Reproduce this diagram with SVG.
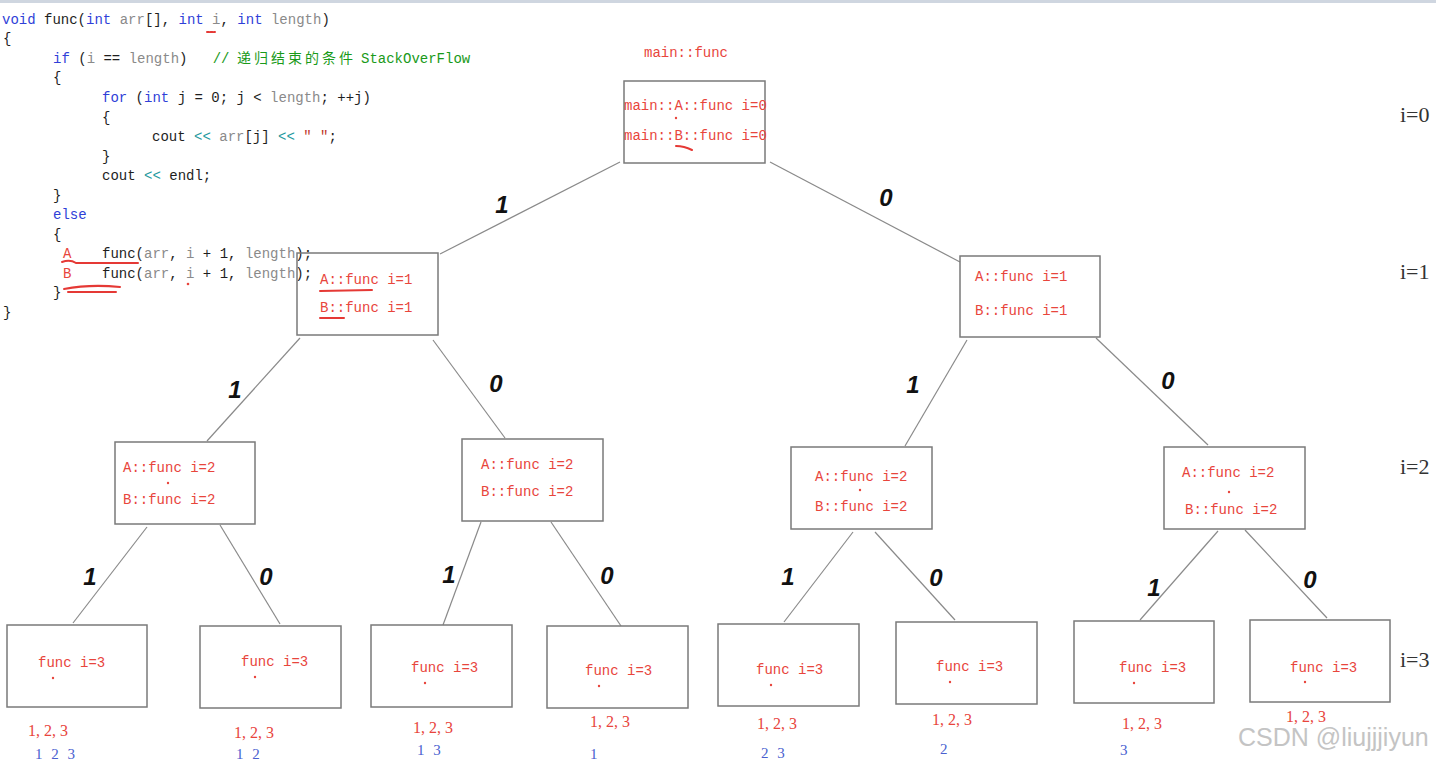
<svg xmlns="http://www.w3.org/2000/svg" width="1436" height="761" viewBox="0 0 1436 761">
<style>
.code{font-family:"Liberation Mono","Noto Sans CJK SC",monospace;font-size:14px;fill:#1e1e1e;white-space:pre}
.kw{fill:#2f3fd8}
.id{fill:#8a8a8a}
.op{fill:#1f9aa0}
.cm{fill:#1a9a1a}
.st{fill:#c0392b}
.ab{fill:#e8453c}
.box{fill:none;stroke:#7a7a7a;stroke-width:1.5}
.nt{font-family:"Liberation Mono",monospace;font-size:14px;fill:#e8453c;white-space:pre}
.edge{stroke:#8a8a8a;stroke-width:1.2;fill:none}
.el{font-family:"Liberation Sans",sans-serif;font-weight:bold;font-style:italic;font-size:24px;fill:#111;text-anchor:middle}
.lv{font-family:"Liberation Serif",serif;font-size:22px;fill:#333}
.r123{font-family:"Liberation Serif",serif;font-size:16px;fill:#e8453c}
.b123{font-family:"Liberation Serif",serif;font-size:15px;fill:#4a5fcf;word-spacing:5px}
.mark{stroke:#e53935;stroke-width:2;fill:none;stroke-linecap:round}
.dot{fill:#e8453c}
</style>
<rect x="0" y="0" width="1436" height="3" fill="#cfd6e0"/>
<g id="code">
<text class="code" x="2" y="24" xml:space="preserve"><tspan class="kw">void</tspan> func(<tspan class="kw">int</tspan> <tspan class="id">arr</tspan>[], <tspan class="kw">int</tspan> <tspan class="id">i</tspan>, <tspan class="kw">int</tspan> <tspan class="id">length</tspan>)</text>
<text class="code" x="3" y="43">{</text>
<text class="code" x="53" y="63" xml:space="preserve"><tspan class="kw">if</tspan> (<tspan class="id">i</tspan> == <tspan class="id">length</tspan>)   <tspan class="cm">//</tspan></text>
<text class="code cm" x="237" y="63" textLength="116" lengthAdjust="spacing">递归结束的条件</text>
<text class="code cm" x="361" y="63">StackOverFlow</text>
<text class="code" x="53" y="82">{</text>
<text class="code" x="102" y="102" xml:space="preserve"><tspan class="kw">for</tspan> (<tspan class="kw">int</tspan> j = 0; j &lt; <tspan class="id">length</tspan>; ++j)</text>
<text class="code" x="102" y="122">{</text>
<text class="code" x="152" y="141" xml:space="preserve">cout <tspan class="op">&lt;&lt;</tspan> <tspan class="id">arr</tspan>[j] <tspan class="op">&lt;&lt;</tspan> <tspan class="st">" "</tspan>;</text>
<text class="code" x="102" y="161">}</text>
<text class="code" x="102" y="180" xml:space="preserve">cout <tspan class="op">&lt;&lt;</tspan> endl;</text>
<text class="code" x="53" y="200">}</text>
<text class="code kw" x="53" y="219">else</text>
<text class="code" x="53" y="239">{</text>
<text class="code ab" x="63" y="258">A</text>
<text class="code" x="102" y="258" xml:space="preserve">func(<tspan class="id">arr</tspan>, <tspan class="id">i</tspan> + 1, <tspan class="id">length</tspan>);</text>
<text class="code ab" x="63" y="278">B</text>
<text class="code" x="102" y="278" xml:space="preserve">func(<tspan class="id">arr</tspan>, <tspan class="id">i</tspan> + 1, <tspan class="id">length</tspan>);</text>
<text class="code" x="53" y="297">}</text>
<text class="code" x="3" y="317">}</text>
<path class="mark" d="M62 262 Q70 259 76 263 L138 263" />
<path class="mark" d="M64 289 Q90 284 120 287 M68 292 L116 292" stroke-width="1.6"/>
<circle class="dot" cx="188" cy="284" r="1.3"/>
<path class="mark" d="M207 32 L215 32" stroke-width="0.8" stroke-dasharray="2 1.5"/>
</g>
<g id="connectors">
<line class="edge" x1="620" y1="162" x2="440" y2="254"/>
<line class="edge" x1="770" y1="162" x2="960" y2="262"/>
<line class="edge" x1="300" y1="338" x2="207" y2="441"/>
<line class="edge" x1="433" y1="340" x2="505" y2="438"/>
<line class="edge" x1="967" y1="340" x2="905" y2="446"/>
<line class="edge" x1="1096" y1="338" x2="1208" y2="445"/>
<line class="edge" x1="147" y1="527" x2="73" y2="623"/>
<line class="edge" x1="220" y1="525" x2="280" y2="624"/>
<line class="edge" x1="481" y1="522" x2="443" y2="625"/>
<line class="edge" x1="551" y1="522" x2="621" y2="626"/>
<line class="edge" x1="853" y1="532" x2="784" y2="622"/>
<line class="edge" x1="875" y1="532" x2="955" y2="620"/>
<line class="edge" x1="1218" y1="531" x2="1140" y2="620"/>
<line class="edge" x1="1245" y1="530" x2="1327" y2="618"/>
<text class="el" x="502" y="213">1</text>
<text class="el" x="886" y="206">0</text>
<text class="el" x="235" y="398">1</text>
<text class="el" x="496" y="392">0</text>
<text class="el" x="913" y="393">1</text>
<text class="el" x="1168" y="389">0</text>
<text class="el" x="90" y="585">1</text>
<text class="el" x="266" y="585">0</text>
<text class="el" x="449" y="583">1</text>
<text class="el" x="607" y="584">0</text>
<text class="el" x="788" y="585">1</text>
<text class="el" x="936" y="586">0</text>
<text class="el" x="1154" y="596">1</text>
<text class="el" x="1310" y="588">0</text>
</g>
<g id="root">
<text class="nt" x="644" y="57">main::func</text>
<rect class="box" x="624" y="81" width="141" height="82"/>
<text class="nt" x="624" y="110">main::A::func i=0</text>
<text class="nt" x="624" y="140">main::B::func i=0</text>
<circle class="dot" cx="676" cy="118" r="1.2"/>
<path class="mark" d="M676 146 Q684 146 692 150"/>
</g>
<g id="n1L">
<rect class="box" x="297" y="253" width="141" height="82"/>
<text class="nt" x="320" y="284">A::func i=1</text>
<text class="nt" x="320" y="312">B::func i=1</text>
<path class="mark" d="M320 291 L372 290 M320 318 L344 318"/>
</g>
<g id="n1R">
<rect class="box" x="960" y="256" width="140" height="81"/>
<text class="nt" x="975" y="281">A::func i=1</text>
<text class="nt" x="975" y="315">B::func i=1</text>
</g>
<g id="n2LL">
<rect class="box" x="115" y="442" width="140" height="82"/>
<text class="nt" x="123" y="472">A::func i=2</text>
<text class="nt" x="123" y="504">B::func i=2</text>
<circle class="dot" cx="168" cy="483" r="1.2"/>
</g>
<g id="n2LR">
<rect class="box" x="462" y="439" width="141" height="82"/>
<text class="nt" x="481" y="469">A::func i=2</text>
<text class="nt" x="481" y="496">B::func i=2</text>
</g>
<g id="n2RL">
<rect class="box" x="791" y="447" width="141" height="82"/>
<text class="nt" x="815" y="481">A::func i=2</text>
<text class="nt" x="815" y="511">B::func i=2</text>
<circle class="dot" cx="860" cy="490" r="1.2"/>
</g>
<g id="n2RR">
<rect class="box" x="1164" y="447" width="141" height="82"/>
<text class="nt" x="1182" y="477">A::func i=2</text>
<text class="nt" x="1185" y="514">B::func i=2</text>
<circle class="dot" cx="1229" cy="492" r="1.2"/>
</g>
<g id="n3a">
<rect class="box" x="7" y="625" width="140" height="82"/>
<text class="nt" x="38" y="667">func i=3</text>
<circle class="dot" cx="53" cy="678" r="1.2"/>
<text class="r123" x="28" y="736">1, 2, 3</text>
<text class="b123" x="35" y="759">1 2 3</text>
</g>
<g id="n3b">
<rect class="box" x="200" y="626" width="141" height="82"/>
<text class="nt" x="241" y="666">func i=3</text>
<circle class="dot" cx="255" cy="677" r="1.2"/>
<text class="r123" x="234" y="738">1, 2, 3</text>
<text class="b123" x="236" y="759">1 2</text>
</g>
<g id="n3c">
<rect class="box" x="371" y="625" width="141" height="82"/>
<text class="nt" x="411" y="672">func i=3</text>
<circle class="dot" cx="425" cy="683" r="1.2"/>
<text class="r123" x="413" y="733">1, 2, 3</text>
<text class="b123" x="417" y="755">1 3</text>
</g>
<g id="n3d">
<rect class="box" x="547" y="626" width="141" height="82"/>
<text class="nt" x="585" y="675">func i=3</text>
<circle class="dot" cx="599" cy="686" r="1.2"/>
<text class="r123" x="590" y="727">1, 2, 3</text>
<text class="b123" x="590" y="759">1</text>
</g>
<g id="n3e">
<rect class="box" x="718" y="624" width="141" height="82"/>
<text class="nt" x="756" y="674">func i=3</text>
<circle class="dot" cx="771" cy="685" r="1.2"/>
<text class="r123" x="757" y="729">1, 2, 3</text>
<text class="b123" x="761" y="758">2 3</text>
</g>
<g id="n3f">
<rect class="box" x="896" y="622" width="141" height="82"/>
<text class="nt" x="936" y="671">func i=3</text>
<circle class="dot" cx="950" cy="682" r="1.2"/>
<text class="r123" x="932" y="725">1, 2, 3</text>
<text class="b123" x="940" y="754">2</text>
</g>
<g id="n3g">
<rect class="box" x="1074" y="621" width="140" height="82"/>
<text class="nt" x="1119" y="672">func i=3</text>
<circle class="dot" cx="1134" cy="683" r="1.2"/>
<text class="r123" x="1122" y="729">1, 2, 3</text>
<text class="b123" x="1120" y="755">3</text>
</g>
<g id="n3h">
<rect class="box" x="1250" y="620" width="140" height="82"/>
<text class="nt" x="1290" y="672">func i=3</text>
<circle class="dot" cx="1305" cy="682" r="1.2"/>
<text class="r123" x="1286" y="722">1, 2, 3</text>
</g>
<g id="levels">
<text class="lv" x="1400" y="122">i=0</text>
<text class="lv" x="1400" y="279">i=1</text>
<text class="lv" x="1400" y="474">i=2</text>
<text class="lv" x="1400" y="667">i=3</text>
</g>
<text x="1238" y="746" font-family="Liberation Sans,sans-serif" font-size="25" fill="#c4c4c4">CSDN @liujjjiyun</text>
</svg>
